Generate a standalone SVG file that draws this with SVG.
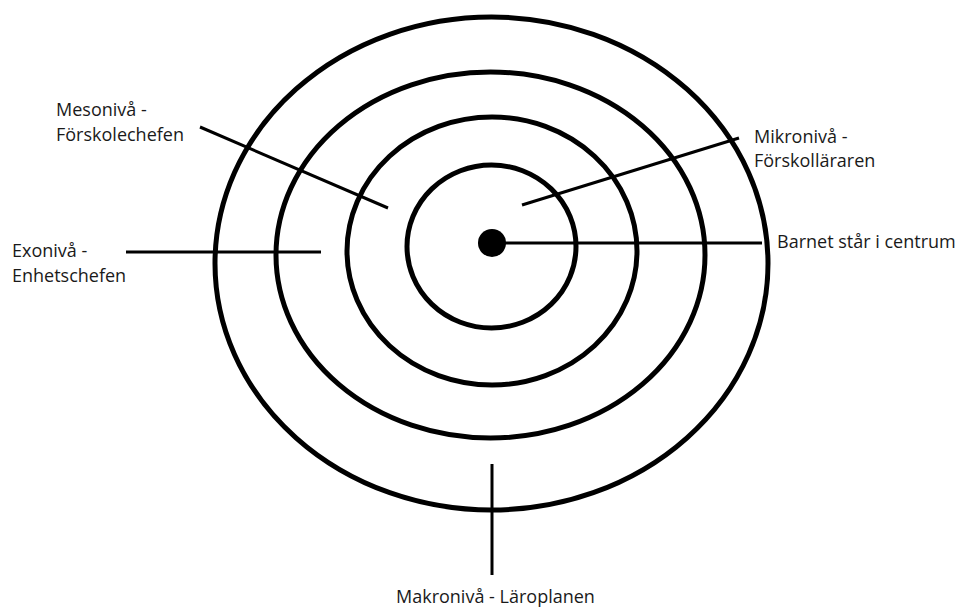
<svg xmlns="http://www.w3.org/2000/svg" width="960" height="608" viewBox="0 0 960 608">
<style>
.ring{fill:none;stroke:#000;stroke-width:5}
.ln{stroke:#000;stroke-width:3;fill:none}
.lbl{font-family:"Open Sans","Noto Sans","Liberation Sans",sans-serif;font-size:18px;fill:#1a1a1a}
</style>
<rect width="960" height="608" fill="#fff"/>
<g id="rings">
<ellipse id="makro-ring" class="ring" cx="491.5" cy="263.5" rx="276.5" ry="246.5"/>
<ellipse id="exo-ring" class="ring" cx="490.5" cy="255" rx="214.5" ry="183"/>
<ellipse id="meso-ring" class="ring" cx="492" cy="251" rx="145" ry="134"/>
<ellipse id="mikro-ring" class="ring" cx="491.5" cy="246.5" rx="84.5" ry="81.5"/>
<circle id="barnet" cx="492" cy="243" r="14" fill="#000"/>
</g>
<g id="connectors">
<line class="ln" x1="200" y1="127" x2="388" y2="208"/>
<line class="ln" x1="126" y1="252" x2="321" y2="252"/>
<line class="ln" x1="522" y1="205" x2="739" y2="138"/>
<line class="ln" x1="492" y1="243" x2="762" y2="243"/>
<line class="ln" x1="492" y1="464" x2="492" y2="575"/>
</g>
<g id="label-meso">
<text class="lbl" x="56" y="116">Mesonivå -</text>
<text class="lbl" x="56" y="141">Förskolechefen</text>
</g>
<g id="label-exo">
<text class="lbl" x="12" y="257">Exonivå -</text>
<text class="lbl" x="12" y="282">Enhetschefen</text>
</g>
<g id="label-mikro">
<text class="lbl" x="754" y="143">Mikronivå -</text>
<text class="lbl" x="754" y="167">Förskolläraren</text>
</g>
<g id="label-barnet">
<text class="lbl" x="777" y="248">Barnet står i centrum</text>
</g>
<g id="label-makro">
<text class="lbl" x="396" y="603">Makronivå - Läroplanen</text>
</g>
</svg>
